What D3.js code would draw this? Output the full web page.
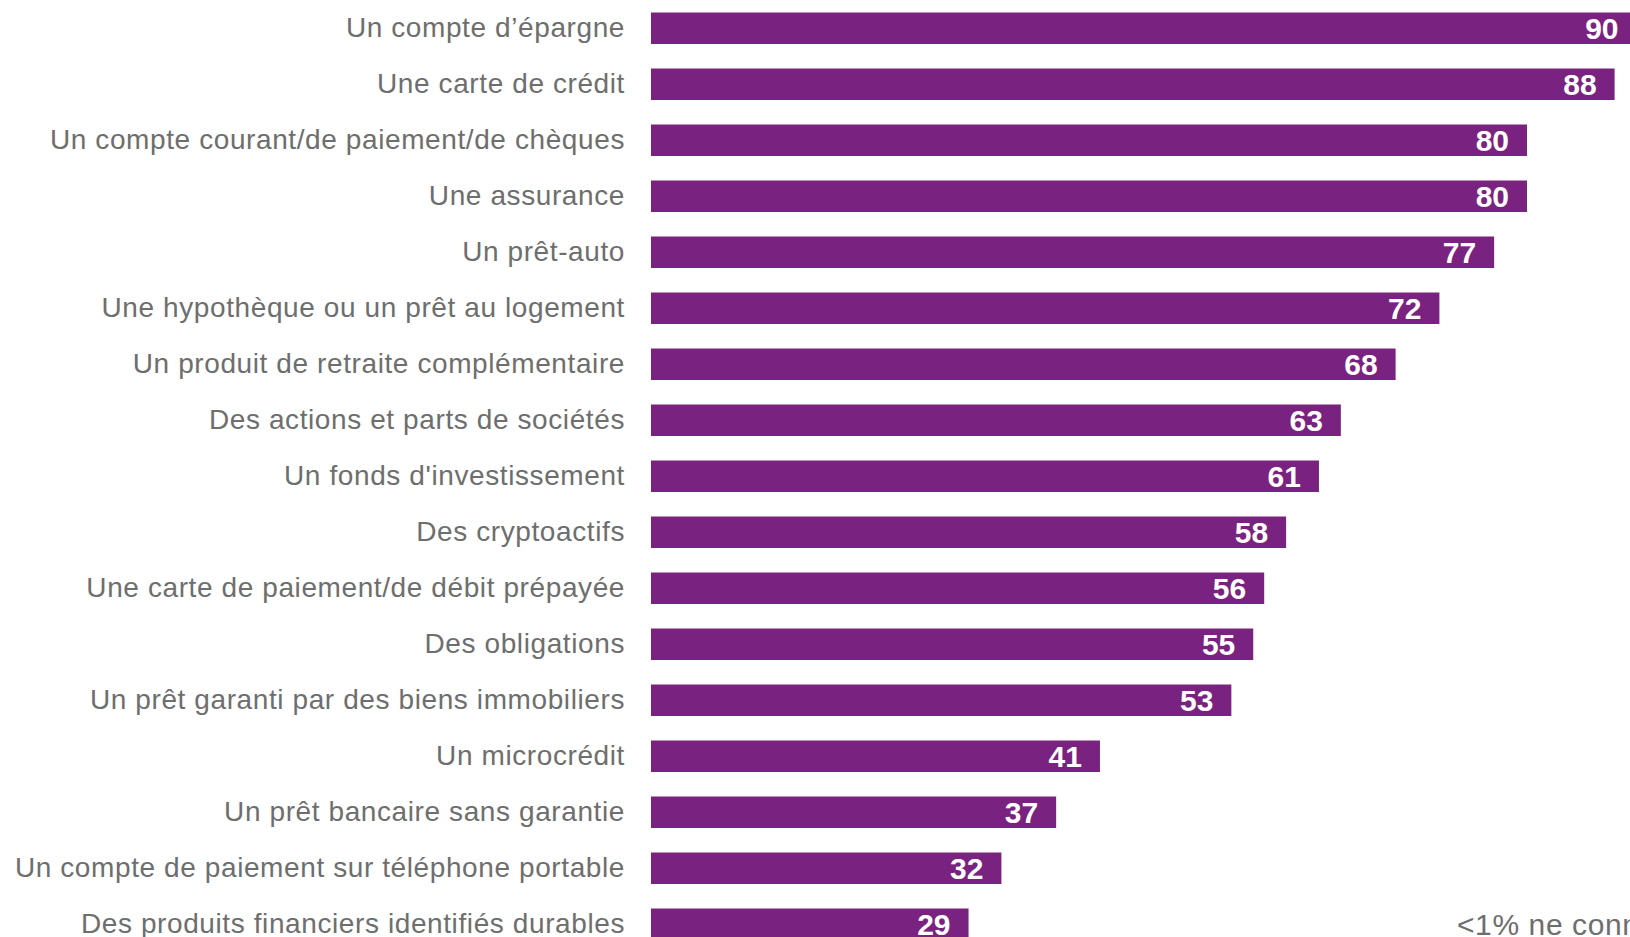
<!DOCTYPE html>
<html>
<head>
<meta charset="utf-8">
<script src="https://cdn.jsdelivr.net/npm/d3@7"></script>
<style>
  html, body { margin: 0; padding: 0; background: #fff; overflow: hidden; }
  svg { display: block; }
</style>
</head>
<body>
<div id="chart"></div>
<script>
// produits financiers (%)
var categories = [
  "Un compte d’épargne",
  "Une carte de crédit",
  "Un compte courant/de paiement/de chèques",
  "Une assurance",
  "Un prêt-auto",
  "Une hypothèque ou un prêt au logement",
  "Un produit de retraite complémentaire",
  "Des actions et parts de sociétés",
  "Un fonds d'investissement",
  "Des cryptoactifs",
  "Une carte de paiement/de débit prépayée",
  "Des obligations",
  "Un prêt garanti par des biens immobiliers",
  "Un microcrédit",
  "Un prêt bancaire sans garantie",
  "Un compte de paiement sur téléphone portable",
  "Des produits financiers identifiés durables"
];
var values = [90, 88, 80, 80, 77, 72, 68, 63, 61, 58, 56, 55, 53, 41, 37, 32, 29];
var noteText = "<1% ne connaissent aucun de ces produits";

var W = 1630, H = 937;
var purple = "#7a2280", grey = "#6e6e6e";

var svg = d3.select("#chart").append("svg")
  .attr("width", W)
  .attr("height", H);

var x = d3.scaleLinear().domain([0, 100]).range([651, 1746]);
var y = d3.scaleBand()
  .domain(categories)
  .range([0.25, 952.25])
  .paddingInner(0.4375)
  .paddingOuter(0.21875);

var rows = categories.map(function(c, i){ return {cat: c, val: values[i]}; });

// barres
svg.selectAll(".bar")
  .data(rows)
  .enter().append("rect")
  .attr("class", "bar")
  .attr("x", x(0))
  .attr("y", function(d){ return y(d.cat); })
  .attr("width", function(d){ return x(d.val) - x(0); })
  .attr("height", y.bandwidth())
  .attr("fill", purple);

// libellés à gauche
svg.selectAll(".label")
  .data(rows)
  .enter().append("text")
  .attr("class", "label")
  .attr("x", 625)
  .attr("y", function(d){ return y(d.cat) + y.bandwidth() / 2 + 9; })
  .attr("text-anchor", "end")
  .attr("font-family", "'Liberation Sans', Arial, sans-serif")
  .attr("font-size", 28)
  .attr("letter-spacing", "0.6px")
  .attr("fill", grey)
  .text(function(d){ return d.cat; });

// valeurs dans les barres
svg.selectAll(".val")
  .data(rows)
  .enter().append("text")
  .attr("class", "val")
  .attr("x", function(d){ return x(d.val) - 18; })
  .attr("y", function(d){ return y(d.cat) + y.bandwidth() / 2 + 11; })
  .attr("text-anchor", "end")
  .attr("font-family", "'Liberation Sans', Arial, sans-serif")
  .attr("font-weight", "bold")
  .attr("font-size", 30)
  .attr("fill", "#fff")
  .text(function(d){ return d.val; });

// note en bas à droite
svg.append("text")
  .attr("x", 1457)
  .attr("y", 935)
  .attr("font-family", "'Liberation Sans', Arial, sans-serif")
  .attr("font-size", 30)
  .attr("letter-spacing", "0.6px")
  .attr("fill", grey)
  .text(noteText);
</script>
</body>
</html>
